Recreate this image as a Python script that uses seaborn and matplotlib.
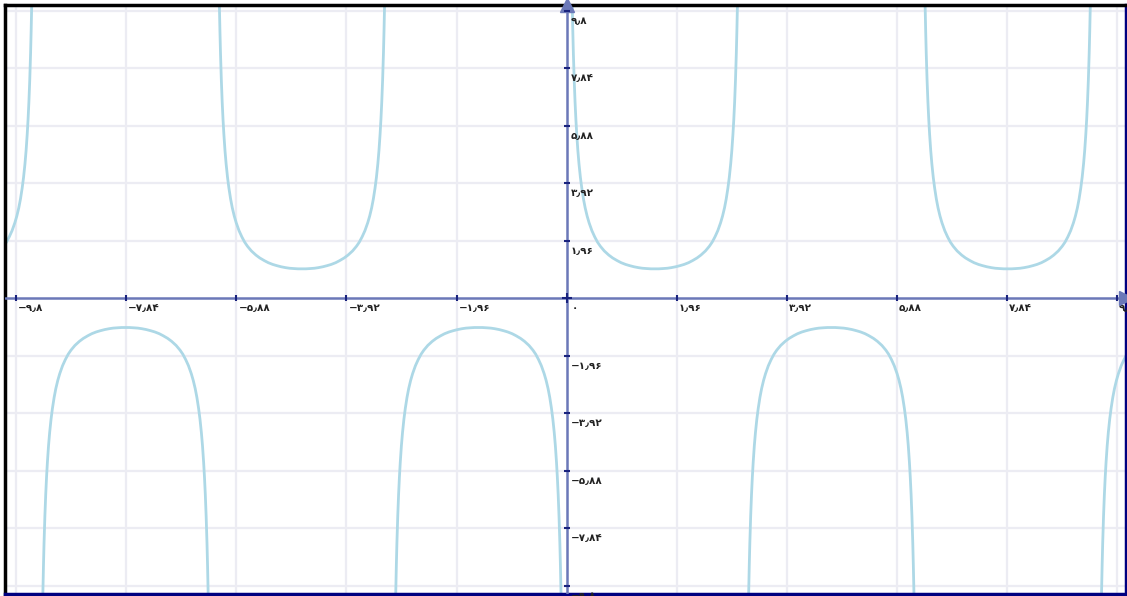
import seaborn as sns
import matplotlib.pyplot as plt
import pandas as pd

# one branch of the curve: distance from the asymptote -> value
branch_offsets = [0.085, 0.10, 0.11, 0.12, 0.135, 0.15, 0.165, 0.18, 0.20, 0.22, 0.245,
                  0.27, 0.30, 0.33, 0.365, 0.40, 0.45, 0.50, 0.55, 0.60, 0.67, 0.75,
                  0.82, 0.90, 0.97, 1.05, 1.12, 1.20, 1.28, 1.35, 1.42, 1.50, 1.5708]
branch_values = [11.8, 10.0, 9.11, 8.35, 7.43, 6.69, 6.09, 5.59, 5.03, 4.58, 4.12,
                 3.75, 3.38, 3.08, 2.80, 2.57, 2.30, 2.09, 1.91, 1.77, 1.61, 1.47,
                 1.37, 1.28, 1.21, 1.15, 1.11, 1.07, 1.04, 1.02, 1.01, 1.00, 1.00]
half_period = 3.1416
asymptotes = [-12.566, -9.425, -6.283, -3.142, 0.0, 3.142, 6.283, 9.425]
branch_signs = [1, -1, 1, -1, 1, -1, 1, -1]

tick_values = [-9.8, -7.84, -5.88, -3.92, -1.96, 1.96, 3.92, 5.88, 7.84, 9.8]
tick_labels = ["−۹٫۸", "−۷٫۸۴", "−۵٫۸۸", "−۳٫۹۲", "−۱٫۹۶",
               "۱٫۹۶", "۳٫۹۲", "۵٫۸۸", "۷٫۸۴", "۹٫۸"]

rows = []
for b, (a, s) in enumerate(zip(asymptotes, branch_signs)):
    for d, v in zip(branch_offsets, branch_values):
        rows.append({"branch": b, "x": a + d, "y": s * v})
    for d, v in zip(branch_offsets[::-1][1:], branch_values[::-1][1:]):
        rows.append({"branch": b, "x": a + half_period - d, "y": s * v})
df = pd.DataFrame(rows)

sns.set_style("white")
plt.rcParams["font.family"] = ["DejaVu Sans"]
fig = plt.figure(figsize=(11.27, 5.96), dpi=100)
ax = fig.add_axes([5 / 1127, 2 / 596, 1121 / 1127, 589 / 596])

for b in df.branch.unique():
    sns.lineplot(data=df[df.branch == b], x="x", y="y", sort=False, estimator=None,
                 color="#add8e6", linewidth=2.0, ax=ax)

ax.set_xlim(-10.0, 9.96)
ax.set_ylim(-10.08, 9.99)
ax.set_xticks(tick_values)
ax.set_yticks(tick_values)
ax.grid(True, color="#ececf3", linewidth=1.6)
ax.set_axisbelow(True)
ax.tick_params(length=0, labelbottom=False, labelleft=False)
ax.set_xlabel("")
ax.set_ylabel("")

# axis lines through the origin with arrows
ax.axhline(0, color="#6b78b8", linewidth=1.8, zorder=3)
ax.axvline(0, color="#6b78b8", linewidth=1.8, zorder=3)
ax.plot(1, 0, ">", color="#6b78b8", markersize=10, transform=ax.get_yaxis_transform(),
        clip_on=False, zorder=4)
ax.plot(0, 1, "^", color="#6b78b8", markersize=10, transform=ax.get_xaxis_transform(),
        clip_on=False, zorder=4)

# tick marks on the axes
ax.plot(tick_values, [0] * len(tick_values), "|", color="#1a237e", markersize=5,
        markeredgewidth=1.5, zorder=4)
ax.plot([0] * len(tick_values), tick_values, "_", color="#1a237e", markersize=5,
        markeredgewidth=1.5, zorder=4)
ax.plot([0], [0], "+", color="#1a237e", markersize=7, markeredgewidth=1.5, zorder=4)

for v, lab in zip(tick_values, tick_labels):
    ax.annotate(lab, (v, 0), xytext=(2, -10), textcoords="offset pixels",
                ha="left", va="center", fontsize=7.5, fontweight="bold",
                color="#222222", annotation_clip=False)
    ax.annotate(lab, (0, v), xytext=(4, -10), textcoords="offset pixels",
                ha="left", va="center", fontsize=7.5, fontweight="bold",
                color="#222222", annotation_clip=False)
ax.annotate("۰", (0, 0), xytext=(5, -10), textcoords="offset pixels",
            ha="left", va="center", fontsize=7.5, fontweight="bold", color="#222222")

for side in ["left", "top"]:
    ax.spines[side].set_color("black")
    ax.spines[side].set_linewidth(2.5)
for side in ["right", "bottom"]:
    ax.spines[side].set_color("#000080")
    ax.spines[side].set_linewidth(2.5)

fig.savefig("out.png", dpi=100)
